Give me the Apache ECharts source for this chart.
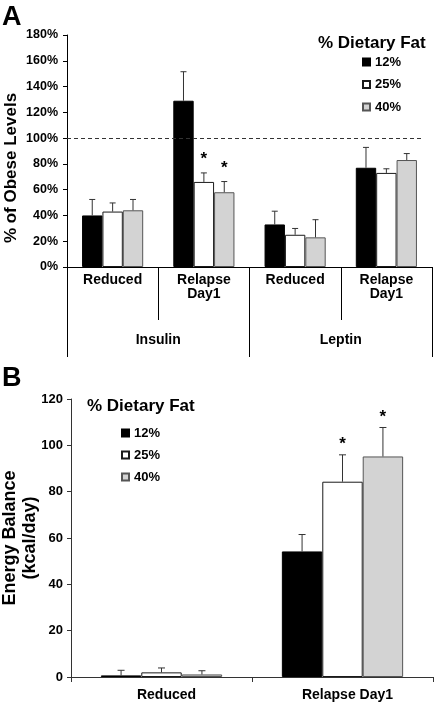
<!DOCTYPE html>
<html>
<head>
<meta charset="utf-8">
<script src="https://cdn.jsdelivr.net/npm/echarts@6/dist/echarts.min.js"></script>
<style>html,body{margin:0;padding:0;background:#fff;}#chart{width:436px;height:704px;}</style>
</head>
<body>
<div id="chart"></div>
<script>
// ---------- data ----------
const seriesNames = ['12%', '25%', '40%'];

// Panel A: % of obese levels
const categoriesA = ['Reduced', 'Relapse\nDay1', 'Reduced', 'Relapse\nDay1'];
const hormonesA = ['Insulin', 'Leptin'];
const valuesA12 = [40, 129, 33, 77];
const valuesA25 = [43, 66, 25, 73];
const valuesA40 = [44, 58, 23, 83];
const errorsA12 = [12.4, 22.5, 10.3, 15.8];
const errorsA25 = [6.7, 7.0, 4.9, 3.2];
const errorsA40 = [8.4, 8.3, 13.7, 5.0];
const starsA12 = [0, 0, 0, 0];
const starsA25 = [0, 1, 0, 0];
const starsA40 = [0, 1, 0, 0];
const referenceLevelA = 100;
const ticksA = { min: 0, max: 180, step: 20 };

// Panel B: energy balance (kcal/day)
const categoriesB = ['Reduced', 'Relapse Day1'];
const valuesB12 = [0.7, 54.2];
const valuesB25 = [2.0, 84.3];
const valuesB40 = [1.1, 95.2];
const errorsB12 = [2.2, 7.3];
const errorsB25 = [1.9, 11.6];
const errorsB40 = [1.6, 12.5];
const starsB12 = [0, 0];
const starsB25 = [0, 1];
const starsB40 = [0, 1];
const ticksB = { min: 0, max: 120, step: 20 };

// ---------- styling ----------
const FONT = '"Liberation Sans", Arial, sans-serif';
const fills = ['#000000', '#ffffff', '#d3d3d3'];
const borders = ['#000000', '#1a1a1a', '#555555'];
const GAP = 0.33;

const valsA = [valuesA12, valuesA25, valuesA40];
const errsA = [errorsA12, errorsA25, errorsA40];
const starA = [starsA12, starsA25, starsA40];
const valsB = [valuesB12, valuesB25, valuesB40];
const errsB = [errorsB12, errorsB25, errorsB40];
const starB = [starsB12, starsB25, starsB40];

function errorRenderer(k, capHalf, starLift) {
  return function (params, api) {
    const cat = api.value(0), v = api.value(1), e = api.value(2), s = api.value(3);
    const band = api.size([1, 0])[0];
    const bw = band * (1 - GAP) / 3;
    const cx = api.coord([cat, 0])[0] + (k - 1) * bw;
    const y0 = api.coord([cat, v])[1];
    const y1 = api.coord([cat, v + e])[1];
    const children = [
      { type: 'line', shape: { x1: cx, y1: y0, x2: cx, y2: y1 }, style: { stroke: '#333', lineWidth: 1 } },
      { type: 'line', shape: { x1: cx - capHalf, y1: y1, x2: cx + capHalf, y2: y1 }, style: { stroke: '#333', lineWidth: 1 } }
    ];
    if (s) {
      children.push({ type: 'text', x: cx, y: y1 - starLift,
        style: { text: '*', font: 'bold 17px ' + FONT, fill: '#000', textAlign: 'center', textVerticalAlign: 'bottom' } });
    }
    return { type: 'group', children: children };
  };
}

const series = [];
for (let k = 0; k < 3; k++) {
  const bar = {
    name: seriesNames[k], type: 'bar', barGap: '0%', barCategoryGap: (GAP * 100) + '%',
    itemStyle: { color: fills[k], borderColor: borders[k], borderWidth: 1 },
    silent: true
  };
  const a = Object.assign({}, bar, { xAxisIndex: 0, yAxisIndex: 0, data: valsA[k] });
  if (k === 0) {
    a.markLine = { silent: true, symbol: 'none', label: { show: false },
      lineStyle: { type: [4, 3], color: '#333', width: 1 },
      data: [[{ yAxis: referenceLevelA, x: 67 }, { yAxis: referenceLevelA, x: 424 }]] };
  }
  series.push(a);
  series.push(Object.assign({}, bar, { xAxisIndex: 2, yAxisIndex: 1, data: valsB[k] }));
}
for (let k = 0; k < 3; k++) {
  series.push({ name: 'errA' + k, type: 'custom', xAxisIndex: 0, yAxisIndex: 0, silent: true, z: 5,
    renderItem: errorRenderer(k, 3, 5),
    data: valsA[k].map((v, i) => [i, v, errsA[k][i], starA[k][i]]) });
  series.push({ name: 'errB' + k, type: 'custom', xAxisIndex: 2, yAxisIndex: 1, silent: true, z: 5,
    renderItem: errorRenderer(k, 3.5, 2),
    data: valsB[k].map((v, i) => [i, v, errsB[k][i], starB[k][i]]) });
}

const boldText = (size) => ({ fontFamily: FONT, fontWeight: 'bold', fontSize: size, color: '#000' });

const option = {
  animation: false,
  backgroundColor: '#fff',
  title: [
    { text: 'A', left: 2, top: 4, padding: 0, textStyle: boldText(27) },
    { text: 'B', left: 2, top: 365, padding: 0, textStyle: boldText(27) },
    { text: '% Dietary Fat', left: 318, top: 35, padding: 0, textStyle: boldText(17) },
    { text: '% Dietary Fat', left: 87, top: 398, padding: 0, textStyle: boldText(17) }
  ],
  legend: [
    { data: seriesNames, orient: 'vertical', left: 362, top: 55, padding: 0, itemWidth: 7, itemHeight: 7,
      itemGap: 8.5, icon: 'rect', selectedMode: false, textStyle: Object.assign(boldText(13), { lineHeight: 14 }) },
    { data: seriesNames, orient: 'vertical', left: 121, top: 426, padding: 0, itemWidth: 7, itemHeight: 7,
      itemGap: 8, icon: 'rect', selectedMode: false, textStyle: Object.assign(boldText(13), { lineHeight: 14 }) }
  ],
  grid: [
    { left: 67, top: 35, width: 365, height: 232, containLabel: false, outerBoundsMode: 'none' },
    { left: 71, top: 399, width: 362, height: 278, containLabel: false, outerBoundsMode: 'none' }
  ],
  xAxis: [
    { type: 'category', gridIndex: 0, data: categoriesA, position: 'bottom',
      axisLine: { show: true, lineStyle: { color: '#000', width: 1 } },
      axisTick: { show: true, length: 53, interval: 0, lineStyle: { color: '#000' } },
      axisLabel: Object.assign(boldText(14), { margin: 6, lineHeight: 14, interval: 0 }) },
    { type: 'category', gridIndex: 0, data: hormonesA, position: 'bottom', offset: 0,
      axisLine: { show: true, lineStyle: { color: '#000', width: 1 } },
      axisTick: { show: true, length: 90, interval: 0, lineStyle: { color: '#000' } },
      axisLabel: Object.assign(boldText(14), { margin: 66, interval: 0 }) },
    { type: 'category', gridIndex: 1, data: categoriesB, position: 'bottom',
      axisLine: { show: true, lineStyle: { color: '#333', width: 1 } },
      axisTick: { show: true, length: 5, interval: 0, lineStyle: { color: '#333' } },
      axisLabel: Object.assign(boldText(14), { margin: 11, interval: 0, padding: [0, 0, 0, 10] }) }
  ],
  yAxis: [
    { type: 'value', gridIndex: 0, min: ticksA.min, max: ticksA.max, interval: ticksA.step,
      axisLine: { show: true, lineStyle: { color: '#000' } },
      axisTick: { show: true, length: 4, lineStyle: { color: '#000' } },
      splitLine: { show: false },
      axisLabel: Object.assign(boldText(12.5), { margin: 9, formatter: '{value}%' }),
      name: '% of Obese Levels', nameLocation: 'middle', nameGap: 47, nameMoveOverlap: false,
      nameTextStyle: Object.assign(boldText(17), { padding: [0, 34, 0, 0] }) },
    { type: 'value', gridIndex: 1, min: ticksB.min, max: ticksB.max, interval: ticksB.step,
      axisLine: { show: true, lineStyle: { color: '#333' } },
      axisTick: { show: true, length: 4, lineStyle: { color: '#333' } },
      splitLine: { show: false },
      axisLabel: Object.assign(boldText(13), { margin: 8 }),
      name: 'Energy Balance\n(kcal/day)', nameLocation: 'middle', nameGap: 31, nameMoveOverlap: false,
      nameTextStyle: Object.assign(boldText(18), { lineHeight: 20 }) }
  ],
  series: series
};

const chart = echarts.init(document.getElementById('chart'), null, { renderer: 'canvas' });
chart.setOption(option);
</script>
</body>
</html>
